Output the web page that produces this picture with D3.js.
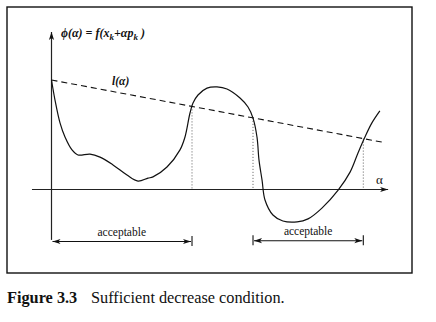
<!DOCTYPE html>
<html>
<head>
<meta charset="utf-8">
<script src="https://cdn.jsdelivr.net/npm/d3@7"></script>
<style>
html,body{margin:0;padding:0;background:#fff;}
svg{display:block;}
text{font-family:'Liberation Serif','DejaVu Serif',serif;}
</style>
</head>
<body>
<svg id="chart" width="436" height="322"></svg>
<script>
// ---- data (α, φ) ----
const curveAlpha = [0, 0.106, 0.257, 0.408, 0.619, 0.80, 1.163, 1.465, 1.858, 2.281, 2.613, 2.915, 3.066, 3.489, 3.882, 4.033, 4.184, 4.275, 4.426, 4.698, 5.0, 5.302, 5.695, 5.937, 6.088, 6.208, 6.269, 6.36, 6.45, 6.69, 6.99, 7.42, 7.75, 8.17, 8.66, 9.02, 9.26, 9.47, 9.68, 9.92];
const curvePhi   = [3.65, 2.98, 2.22, 1.75, 1.32, 1.15, 1.18, 1.08, 0.82, 0.48, 0.28, 0.38, 0.42, 0.75, 1.32, 1.75, 2.55, 2.88, 3.15, 3.38, 3.42, 3.35, 3.05, 2.75, 2.38, 1.75, 0.98, 0.32, -0.35, -0.85, -1.05, -1.08, -0.98, -0.62, -0.02, 0.58, 1.22, 1.75, 2.22, 2.62];
const lineAlpha = [0, 9.985];
const linePhi   = [3.65, 1.58];
const acceptStart = [0, 6.088];
const acceptEnd   = [4.245, 9.42];
const crossAlpha  = [4.245, 6.088, 9.42];
const acceptLabels = ["acceptable", "acceptable"];
const xAxisRange = [-0.59, 10.17];
const yAxisRange = [-1.68, 5.25];

const svg = d3.select("#chart");
const x = d3.scaleLinear().domain([0, 10]).range([51.5, 382.5]);
const y = d3.scaleLinear().domain([0, 1]).range([189.5, 159.5]);
const lFun = a => linePhi[0] + (linePhi[1]-linePhi[0])*(a-lineAlpha[0])/(lineAlpha[1]-lineAlpha[0]);

const defs = svg.append("defs");
defs.append("marker").attr("id","arr").attr("viewBox","-9 -4 10 8")
  .attr("refX",0).attr("refY",0).attr("markerWidth",10).attr("markerHeight",8)
  .attr("markerUnits","userSpaceOnUse").attr("orient","auto-start-reverse")
  .append("path").attr("d","M0,0 L-8,-2.6 L-6,0 L-8,2.6 Z").attr("fill","#111");

// frame
svg.append("rect").attr("x",7).attr("y",7).attr("width",405).attr("height",266)
  .attr("fill","none").attr("stroke","#111").attr("stroke-width",1.4);

// axes
svg.append("line").attr("x1",x(xAxisRange[0])).attr("x2",x(xAxisRange[1]))
  .attr("y1",y(0)).attr("y2",y(0)).attr("stroke","#222").attr("stroke-width",1.2)
  .attr("marker-end","url(#arr)");
svg.append("line").attr("x1",x(0)).attr("x2",x(0))
  .attr("y1",y(yAxisRange[0])).attr("y2",y(yAxisRange[1])).attr("stroke","#222").attr("stroke-width",1.2)
  .attr("marker-end","url(#arr)");

// dashed l(α)
svg.append("line").attr("x1",x(lineAlpha[0])).attr("y1",y(linePhi[0]))
  .attr("x2",x(lineAlpha[1])).attr("y2",y(linePhi[1]))
  .attr("stroke","#111").attr("stroke-width",1.1).attr("stroke-dasharray","6,4");

// dotted verticals
svg.selectAll("line.dot").data(crossAlpha).join("line").attr("class","dot")
  .attr("x1",d=>x(d)).attr("x2",d=>x(d)).attr("y1",d=>y(lFun(d))).attr("y2",y(0))
  .attr("stroke","#333").attr("stroke-width",0.8).attr("stroke-dasharray","1,2");

// curve
const pts = curveAlpha.map((a,i)=>[a,curvePhi[i]]);
svg.append("path").datum(pts)
  .attr("d", d3.line().x(d=>x(d[0])).y(d=>y(d[1])).curve(d3.curveCatmullRom.alpha(0.5)))
  .attr("fill","none").attr("stroke","#111").attr("stroke-width",1.2);

// acceptable intervals
const arrowY = [241.5, 240.7];
acceptStart.forEach((s,i)=>{
  const e = acceptEnd[i];
  svg.append("line").attr("x1",x(s)+1).attr("x2",x(e)-1).attr("y1",arrowY[i]).attr("y2",arrowY[i])
    .attr("stroke","#111").attr("stroke-width",1.1)
    .attr("marker-start","url(#arr)").attr("marker-end","url(#arr)");
  [s,e].forEach(v=>{
    if (v===0) return;
    svg.append("line").attr("x1",x(v)).attr("x2",x(v)).attr("y1",arrowY[i]-5.5).attr("y2",arrowY[i]+4.5)
      .attr("stroke","#111").attr("stroke-width",1.1);
  });
  svg.append("text").attr("x",(x(s)+x(e))/2).attr("y",arrowY[i]-6)
    .attr("text-anchor","middle").attr("font-size",11.5)
    .attr("fill","#111").text(acceptLabels[i]);
});

// labels
const title = svg.append("text").attr("x",61).attr("y",37)
  .attr("font-size",12).attr("font-weight","bold")
  .attr("font-style","italic").attr("fill","#111");
title.append("tspan").text("\u03d5(\u03b1) = f(x");
title.append("tspan").attr("dy",3).attr("font-size",9).text("k");
title.append("tspan").attr("dy",-3).text("+\u03b1p");
title.append("tspan").attr("dy",3).attr("font-size",9).text("k");
title.append("tspan").attr("dy",-3).text(" )");

svg.append("text").attr("x",112).attr("y",85)
  .attr("font-size",11.5).attr("font-weight","bold")
  .attr("font-style","italic").attr("fill","#111").text("l(\u03b1)");

svg.append("text").attr("x",376).attr("y",184)
  .attr("font-size",13).attr("fill","#111").text("\u03b1");

// caption
const cap = svg.append("text").attr("x",7).attr("y",303)
  .attr("font-size",16.3).attr("fill","#111");
cap.append("tspan").attr("font-weight","bold").text("Figure 3.3");
cap.append("tspan").attr("x",91).text("Sufficient decrease condition.");
</script>
</body>
</html>
